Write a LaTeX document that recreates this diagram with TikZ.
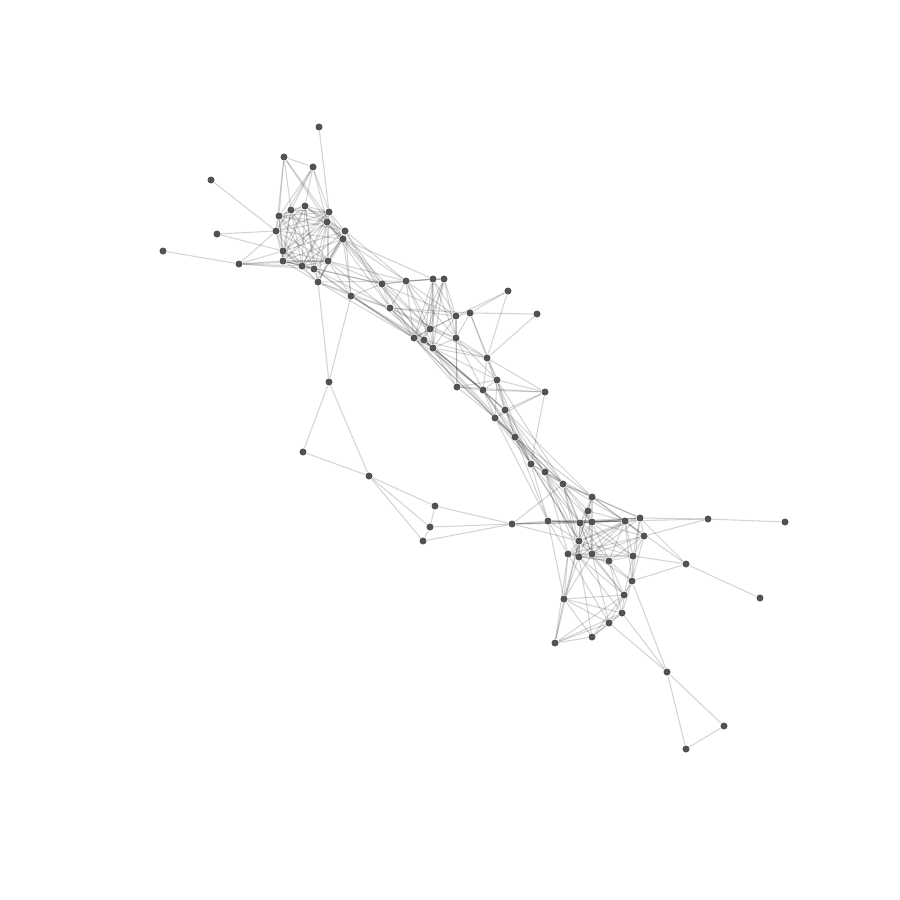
\documentclass[tikz,border=0pt]{standalone}
\pgfdeclarelayer{bg}
\pgfsetlayers{bg,main}
\begin{document}
\begin{tikzpicture}[x=0.01cm,y=-0.01cm,
  dot/.style={circle,fill=black!68,draw=none,inner sep=0pt,minimum size=0.07cm},
  edge/.style={draw=black,opacity=0.17,line width=0.3pt}]
\path[use as bounding box] (0,0) rectangle (900,900);
\foreach \n/\x/\y in {A1/319/127,A2/284/157,A3/313/167,A4/211/180,A5/291/210,A6/305/206,A7/329/212,A8/279/216,A9/327/222,A10/345/231,A11/276/231,A12/217/234,A13/343/239,A14/163/251,A15/283/251,A16/283/261,A17/328/261,A18/239/264,A19/302/266,A20/314/269,A21/318/282,A22/351/296,
B1/382/284,B2/406/281,B3/433/279,B4/444/279,B5/508/291,B6/390/308,B7/456/316,B8/470/313,B9/537/314,B10/430/329,B11/414/338,B12/424/340,B13/456/338,B14/433/348,B15/487/358,B16/497/380,B17/457/387,B18/483/390,B19/545/392,B20/505/410,B21/495/418,B22/515/437,
C1/329/382,C2/303/452,C3/369/476,C4/435/506,C5/430/527,C6/423/541,C7/512/524,
D0/531/464,D1/545/472,D2/563/484,D3/592/497,D4/588/511,D6/548/521,D7/580/523,D8/592/522,D9/625/521,D10/640/518,D11/644/536,D12/579/541,D13/568/554,D14/579/557,D15/592/554,D16/609/561,D17/633/556,D18/632/581,D19/564/599,D20/624/595,D21/622/613,D22/609/623,D23/592/637,D24/555/643,
E1/708/519,E2/785/522,E3/686/564,E4/760/598,F1/667/672,F2/724/726,F3/686/749}
  \node[dot] (\n) at (\x,\y) {};
\begin{pgfonlayer}{bg}
\foreach \a/\b in {A1/A7,A2/A3,A2/A5,A2/A8,A2/A11,A2/A9,A2/A13,A3/A5,A3/A6,A3/A7,A3/A8,A3/A11,A3/A9,A4/A11,A12/A11,A12/A15,A14/A18,A18/A11,A18/A15,A18/A16,A18/A19,A18/A20,A18/A17}
  \draw[edge] (\a) -- (\b);
\foreach \a/\b in {A5/A6,A5/A7,A5/A8,A5/A9,A5/A11,A5/A15,A5/A16,A5/A17,A5/A19,A5/A20,
A6/A7,A6/A8,A6/A9,A6/A10,A6/A11,A6/A13,A6/A15,A6/A16,A6/A19,A6/A20,A6/A21,
A7/A8,A7/A9,A7/A10,A7/A13,A7/A15,A7/A16,A7/A17,A7/A19,A7/A11,
A8/A9,A8/A11,A8/A15,A8/A16,A8/A17,A8/A20,A8/A10,
A9/A10,A9/A11,A9/A13,A9/A15,A9/A16,A9/A17,A9/A19,A9/A20,A9/A21,
A10/A13,A10/A15,A10/A17,A10/A19,A10/A21,A10/A22,
A11/A15,A11/A16,A11/A17,A11/A19,A11/A13,
A13/A16,A13/A17,A13/A20,A13/A21,A13/A22,
A15/A16,A15/A17,A15/A19,A15/A20,A15/A21,
A16/A19,A16/A20,A16/A21,A16/A17,
A17/A19,A17/A20,A17/A21,A17/A22,
A19/A20,A19/A21,A20/A21,A21/A22,A20/A22}
  \draw[edge] (\a) -- (\b);
\foreach \a/\b in {A10/B1,A13/B1,A13/B2,A9/B6,A10/B6,A17/B1,A17/B2,A20/B6,A21/B6,A21/B11,A22/B6,A22/B1,A22/B11,A22/B12,A19/B1,A13/B3,A10/B2,A16/B1,A20/B11,A17/B12,A9/B14,A21/B2,A13/B10,A22/B14,A21/C1,A22/C1}
  \draw[edge] (\a) -- (\b);
\foreach \a/\b in {B1/B2,B1/B3,B1/B6,B1/B10,B1/B11,B1/B12,B1/B7,
B2/B3,B2/B4,B2/B6,B2/B10,B2/B11,B2/B14,B2/B13,B2/B7,
B3/B4,B3/B10,B3/B12,B3/B13,B3/B14,B3/B7,B3/B11,
B4/B10,B4/B11,B4/B13,B4/B14,B4/B7,B4/B12,
B6/B7,B6/B8,B6/B10,B6/B11,B6/B12,B6/B14,B6/B13,
B7/B8,B7/B10,B7/B11,B7/B13,B7/B14,B7/B17,
B8/B13,B8/B15,B8/B16,
B10/B11,B10/B12,B10/B13,B10/B14,B10/B15,
B11/B12,B11/B14,B11/B17,B11/B18,B11/B21,B11/B22,
B12/B14,B12/B15,B12/B18,B12/B20,B12/B21,
B13/B14,B13/B15,B13/B17,B13/B18,B13/B16,
B14/B15,B14/B16,B14/B17,B14/B18,B14/B20,B14/B22,
B15/B16,B15/B18,B15/B20,B15/B19,
B16/B18,B16/B20,B16/B21,B16/B22,B16/B19,B16/B17,
B17/B18,B17/B19,B17/B21,
B18/B20,B18/B21,B18/B22,B18/B19,
B19/B20,B19/B21,B19/D0,
B20/B21,B20/B22,B21/B22,
B5/B7,B5/B8,B5/B15,B9/B8,B9/B15}
  \draw[edge] (\a) -- (\b);
\foreach \a/\b in {B20/D0,B21/D0,B22/D0,B22/D1,B21/D1,B20/D2,B22/D2,B16/D0,B18/D1,B22/D3,B21/D2,B20/D1,B18/D0,B22/D6,B21/D6,B20/D3,B22/D12,B16/D2}
  \draw[edge] (\a) -- (\b);
\foreach \a/\b in {C1/C2,C1/C3,C2/C3,C3/C4,C3/C5,C3/C6,C4/C5,C5/C6,C4/C7,C5/C7,C6/C7}
  \draw[edge] (\a) -- (\b);
\foreach \a/\b in {D0/D1,D0/D2,D0/D6,D0/D7,D0/D12,
D1/D2,D1/D3,D1/D7,D1/D8,D1/D12,D1/D14,D1/D13,
D2/D3,D2/D4,D2/D7,D2/D8,D2/D9,D2/D12,D2/D15,D2/D10,D2/D14,
D3/D4,D3/D7,D3/D8,D3/D9,D3/D10,D3/D12,D3/D11,
D4/D7,D4/D8,D4/D9,D4/D12,D4/D15,
D6/D7,D6/D8,D6/D9,D6/D12,D6/D13,D6/D19,
D7/D8,D7/D9,D7/D10,D7/D12,D7/D14,D7/D15,D7/D16,D7/D17,
D8/D9,D8/D10,D8/D12,D8/D14,D8/D15,D8/D16,D8/D17,D8/D11,
D9/D10,D9/D11,D9/D12,D9/D15,D9/D16,D9/D17,D9/D18,D9/D14,D9/D13,
D10/D11,D10/D12,D10/D17,D10/D15,D10/D18,
D11/D15,D11/D17,D11/D18,D11/D16,D11/D13,
D12/D13,D12/D14,D12/D15,D12/D16,D12/D17,D12/D19,D12/D20,
D13/D14,D13/D15,D13/D16,D13/D19,D13/D22,
D14/D15,D14/D16,D14/D17,D14/D19,D14/D21,D14/D23,D14/D20,
D15/D16,D15/D17,D15/D18,D15/D20,D15/D19,D15/D22,
D16/D17,D16/D18,D16/D20,D16/D21,
D17/D18,D17/D20,
D18/D20,D18/D21,D18/D22,
D19/D20,D19/D21,D19/D23,D19/D24,D19/D22,
D20/D21,D20/D24,D20/D23,
D21/D22,D21/D23,D21/D24,
D22/D23,D22/D24,D23/D24,
D12/D24,D13/D24,
C7/D6,C7/D7,C7/D2,C7/D10,C7/D12,C7/D9}
  \draw[edge] (\a) -- (\b);
\foreach \a/\b in {E1/E2,E1/D10,E1/D11,E1/D9,E3/E4,E3/D10,E3/D17,E3/D18,E3/D9,F1/D18,F1/D21,F1/D22,F1/F2,F1/F3,F2/F3}
  \draw[edge] (\a) -- (\b);
\end{pgfonlayer}
\end{tikzpicture}
\end{document}
